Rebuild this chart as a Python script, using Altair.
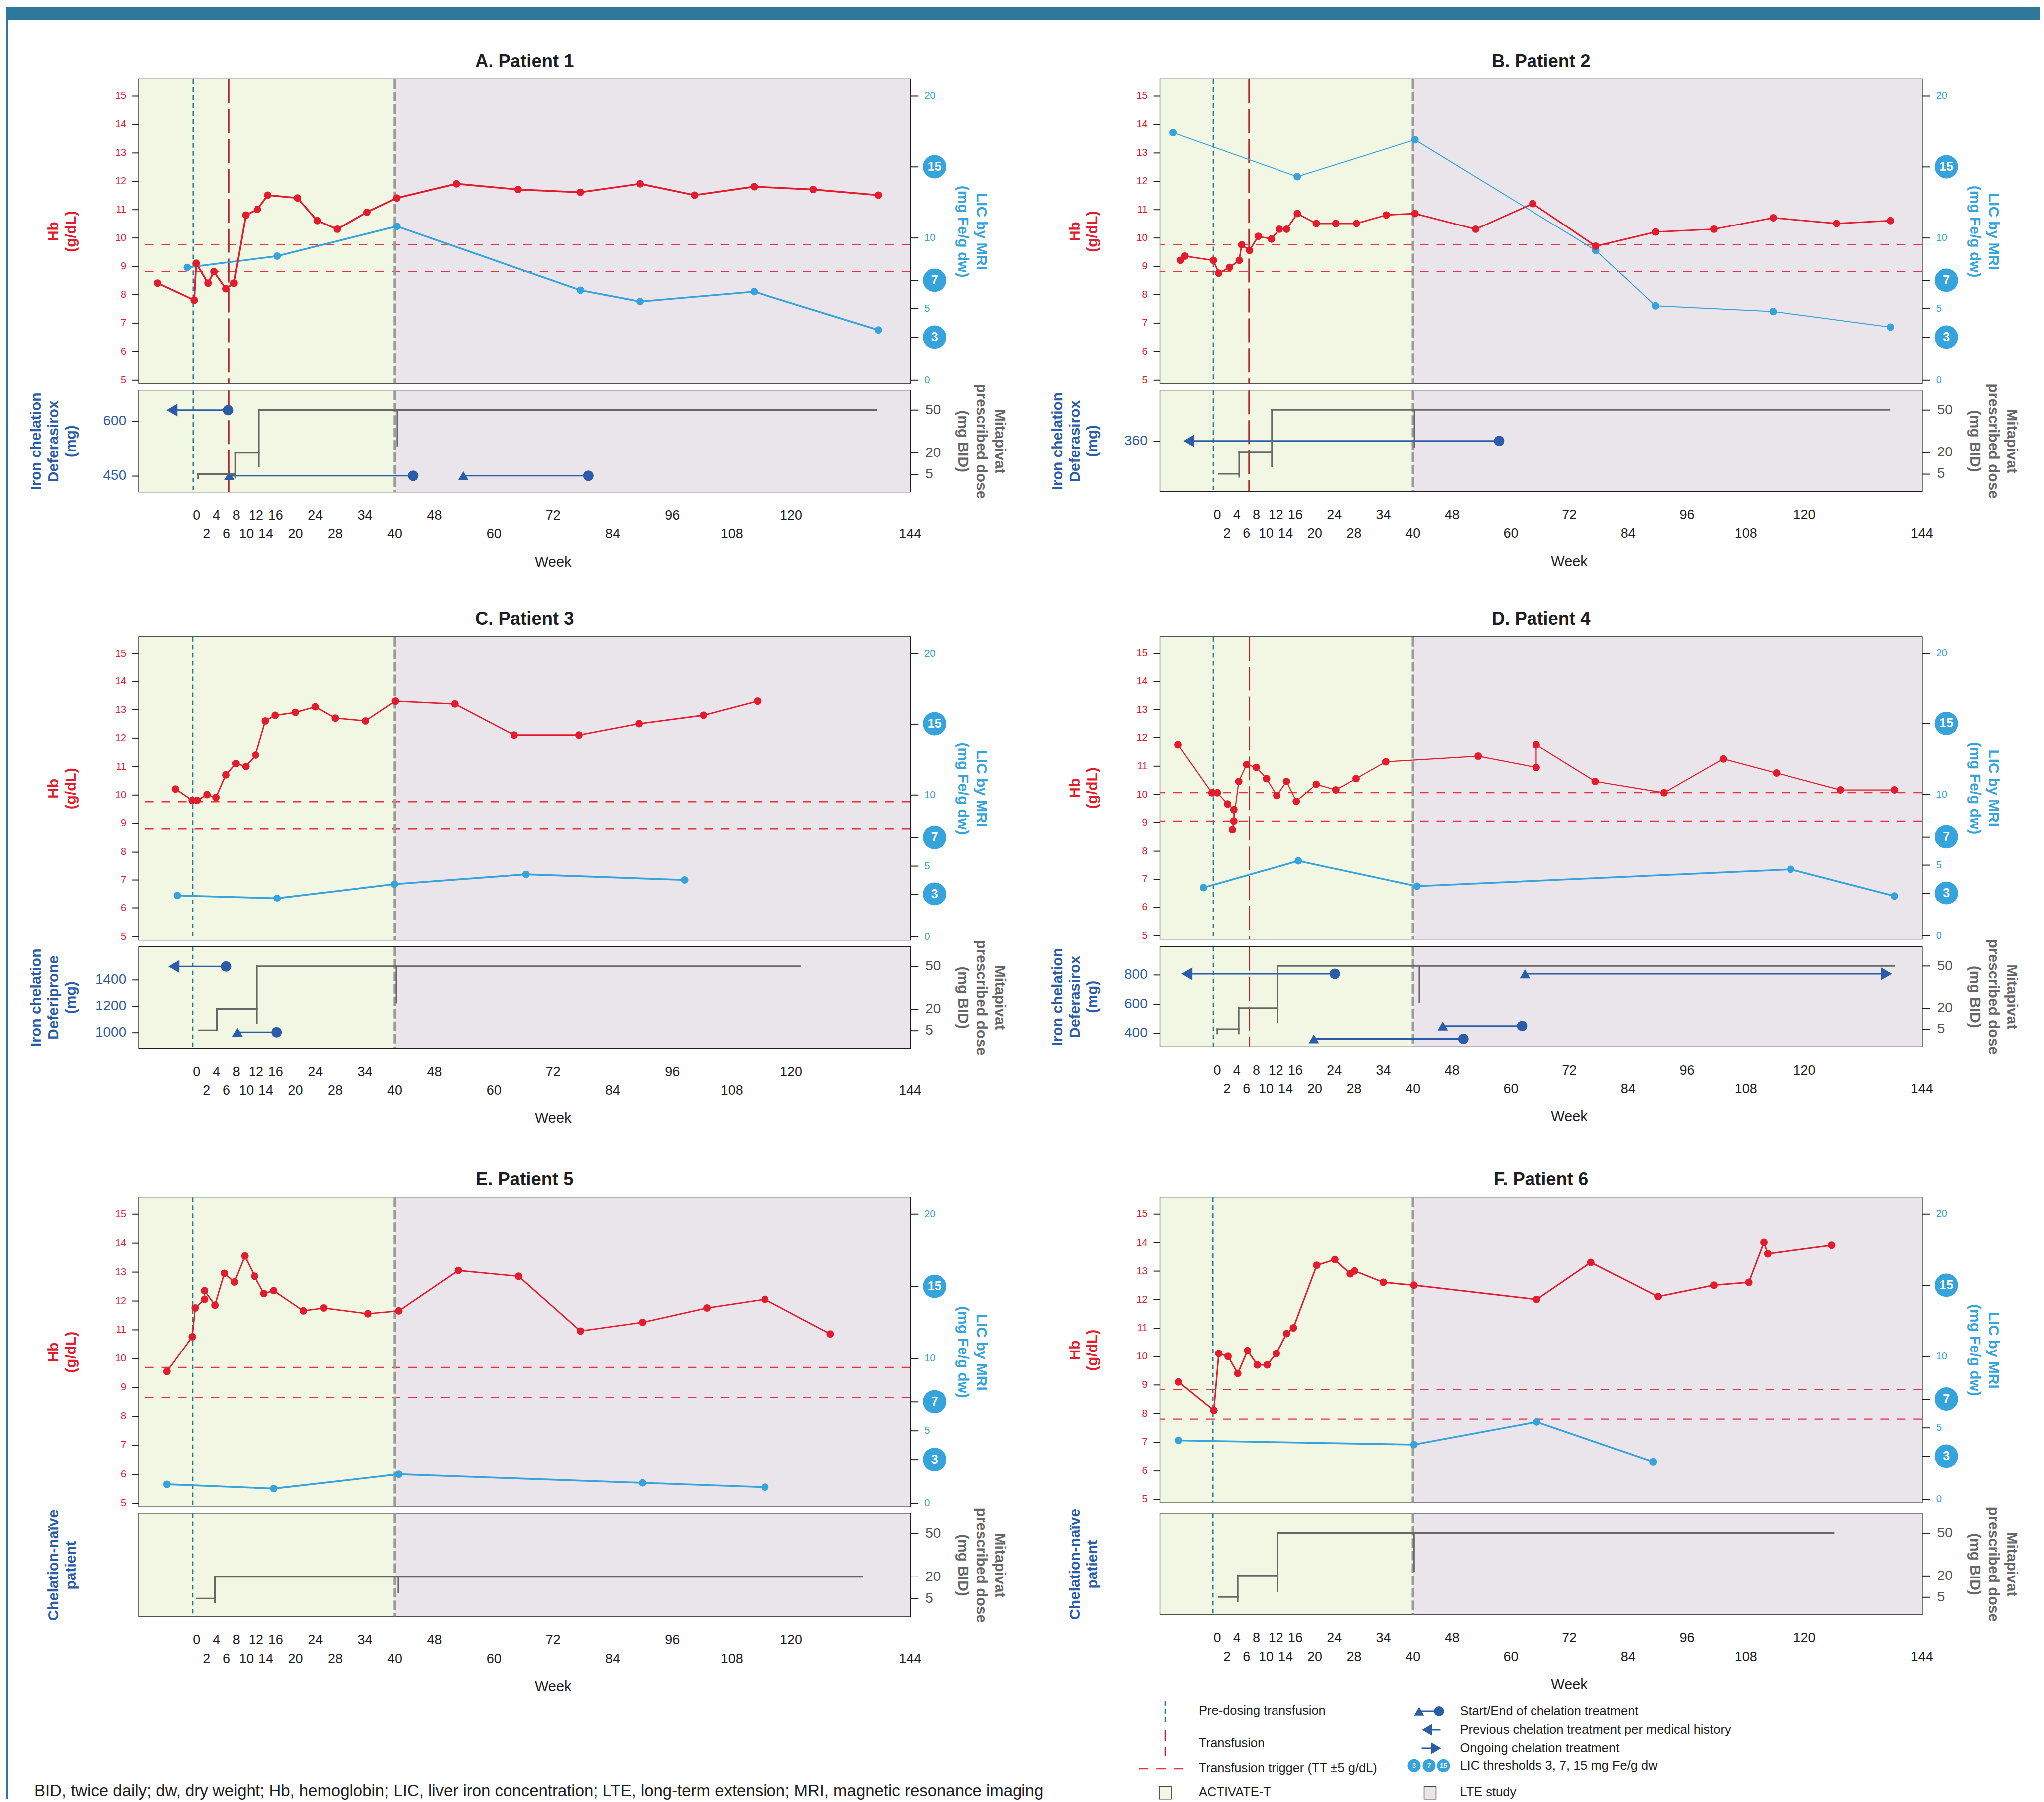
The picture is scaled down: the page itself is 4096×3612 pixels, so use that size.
import altair as alt
import pandas as pd

FONT = "Liberation Sans, Arial, Helvetica, sans-serif"
RED = "#e31b2c"
RED_LINE = "#e8323f"
TRANS = "#b3262f"
TEAL = "#1f7a9c"
LICB = "#35a3dc"
CHB = "#2a5ca8"
MITA = "#666666"
GREEN = "#f2f7e3"
PURPLE = "#e9e5eb"
BAND = "#2e789b"
INK = "#1e1e1e"

XMIN, XMAX = -11.6, 144.0
HB_DOM = [4.88, 15.57]
LIC_DOM = [-0.24, 21.14]
MITA_DOM = [-7.3, 63.6]

WEEK_TICKS = [0, 2, 4, 6, 8, 10, 12, 14, 16, 20, 24, 28, 34, 40, 48, 60, 72, 84, 96, 108, 120, 144]
WEEK_ROW2 = [2, 6, 10, 14, 20, 28, 40, 60, 84, 108, 144]
HB_TICKS = list(range(5, 16))
LIC_TICKS = [0, 3, 5, 7, 10, 15, 20]
LIC_BADGES = [3, 7, 15]
MITA_TICKS = [5, 20, 50]
ACTIVATE_END = 40
PHASES = ["ACTIVATE-T", "LTE"]

# ---------------- Patient 1 ----------------
p1_hb_wk = [-7.9, -0.5, -0.1, 2.3, 3.5, 5.9, 7.5, 9.9, 12.3, 14.4, 20.4, 24.4, 28.4, 34.4, 40.4, 52.4, 64.9, 77.5, 89.5, 100.5, 112.5, 124.5, 137.6]
p1_hb = [8.4, 7.8, 9.1, 8.4, 8.8, 8.2, 8.4, 10.8, 11.0, 11.5, 11.4, 10.6, 10.3, 10.9, 11.4, 11.9, 11.7, 11.6, 11.9, 11.5, 11.8, 11.7, 11.5]
p1_lic_wk = [-1.9, 16.3, 40.4, 77.5, 89.5, 112.5, 137.6]
p1_lic = [7.9, 8.7, 10.8, 6.3, 5.5, 6.2, 3.5]
p1_tt = [9.75, 8.8]
p1_pre = [-0.7]
p1_tf = [6.5]
p1_chel = [(-5.0, 6.35, 630, "larr", "circ"), (6.6, 43.7, 450, "tri", "circ"), (53.8, 79.1, 450, "tri", "circ")]
p1_chel_ticks = [450, 600]
p1_chel_dom = [406, 684]
p1_mita_h = [(0.3, 7.8, 5), (7.8, 12.6, 20), (12.6, 137.2, 50)]
p1_mita_v = [(0.3, 2, 5), (7.8, 2.5, 20), (12.6, 10.4, 50), (40.5, 25, 50)]

# ---------------- Patient 2 ----------------
p2_hb_wk = [-7.5, -6.6, -0.8, 0.3, 2.5, 4.5, 5.0, 6.6, 8.4, 11.1, 12.7, 14.2, 16.4, 20.3, 24.3, 28.5, 34.6, 40.4, 52.8, 64.5, 77.4, 89.6, 101.5, 113.6, 126.6, 137.6]
p2_hb = [9.2, 9.35, 9.2, 8.75, 8.95, 9.2, 9.75, 9.55, 10.05, 9.95, 10.3, 10.3, 10.85, 10.5, 10.5, 10.5, 10.8, 10.85, 10.3, 11.2, 9.7, 10.2, 10.3, 10.7, 10.5, 10.6]
p2_lic_wk = [-9.0, 16.4, 40.4, 77.4, 89.6, 113.6, 137.6]
p2_lic = [17.4, 14.3, 16.9, 9.1, 5.2, 4.8, 3.7]
p2_tt = [9.75, 8.8]
p2_pre = [-0.8]
p2_tf = [6.5]
p2_chel = [(-5.8, 57.6, 360, "larr", "circ")]
p2_chel_ticks = [360]
p2_chel_dom = [260, 460]
p2_mita_h = [(0.3, 4.5, 5), (4.5, 11.2, 20), (11.2, 137.4, 50)]
p2_mita_v = [(4.5, 2.9, 20), (11.2, 10.2, 50), (40.3, 23.8, 50)]

# ---------------- Patient 3 ----------------
p3_hb_wk = [-4.3, -0.9, 0.1, 2.1, 3.9, 5.9, 7.9, 9.9, 11.9, 13.9, 15.9, 20.0, 24.0, 28.0, 34.1, 40.1, 52.1, 64.1, 77.2, 89.3, 102.3, 113.2]
p3_hb = [10.2, 9.8, 9.8, 10.0, 9.9, 10.7, 11.1, 11.0, 11.4, 12.6, 12.8, 12.9, 13.1, 12.7, 12.6, 13.3, 13.2, 12.1, 12.1, 12.5, 12.8, 13.3]
p3_lic_wk = [-3.9, 16.3, 39.9, 66.5, 98.5]
p3_lic = [2.9, 2.7, 3.7, 4.4, 4.0]
p3_tt = [9.75, 8.8]
p3_pre = [-0.8]
p3_tf = []
p3_chel = [(-4.6, 5.95, 1500, "larr", "circ"), (8.2, 16.2, 1000, "tri", "circ")]
p3_chel_ticks = [1000, 1200, 1400]
p3_chel_dom = [881, 1649]
p3_mita_h = [(0.5, 4.1, 5), (4.1, 12.2, 20), (12.2, 121.8, 50)]
p3_mita_v = [(4.1, 5, 20), (12.2, 10.1, 50), (40.3, 24.5, 50)]

# ---------------- Patient 4 ----------------
p4_hb_wk = [-8.0, -1.1, 0.0, 2.1, 3.4, 3.4, 3.1, 4.4, 6.0, 8.0, 10.1, 12.2, 14.2, 16.2, 20.3, 24.3, 28.4, 34.5, 53.3, 65.2, 65.2, 77.3, 91.3, 103.4, 114.3, 127.4, 138.4]
p4_hb = [11.75, 10.05, 10.05, 9.65, 9.45, 9.05, 8.75, 10.45, 11.05, 10.95, 10.55, 9.95, 10.45, 9.75, 10.35, 10.15, 10.55, 11.15, 11.35, 10.95, 11.75, 10.45, 10.05, 11.25, 10.75, 10.15, 10.15]
p4_lic_wk = [-2.8, 16.6, 40.8, 117.2, 138.4]
p4_lic = [3.4, 5.3, 3.5, 4.7, 2.8]
p4_tt = [10.05, 9.05]
p4_pre = [-0.8]
p4_tf = [6.6]
p4_chel = [(-6.2, 24.1, 806, "larr", "circ"), (62.9, 136.8, 806, "tri", "rarr"), (46.1, 62.3, 449, "tri", "circ"), (19.8, 50.3, 361, "tri", "circ")]
p4_chel_ticks = [400, 600, 800]
p4_chel_dom = [309, 991]
p4_mita_h = [(0.0, 4.4, 5), (4.4, 12.3, 20), (12.3, 138.4, 50)]
p4_mita_v = [(0.0, 1.9, 5), (4.4, 1.9, 20), (12.3, 9.8, 50), (41.3, 24.4, 50)]

# ---------------- Patient 5 ----------------
p5_hb_wk = [-6.0, -0.9, -0.3, 1.6, 1.6, 3.7, 5.6, 7.6, 9.7, 11.7, 13.6, 15.6, 21.6, 25.7, 34.6, 40.8, 52.8, 65.0, 77.5, 90.0, 103.0, 114.7, 127.9]
p5_hb = [9.55, 10.75, 11.75, 12.05, 12.35, 11.85, 12.95, 12.65, 13.55, 12.85, 12.25, 12.35, 11.65, 11.75, 11.55, 11.65, 13.05, 12.85, 10.95, 11.25, 11.75, 12.05, 10.85]
p5_lic_wk = [-6.0, 15.6, 40.8, 90.0, 114.7]
p5_lic = [1.3, 1.0, 2.0, 1.4, 1.1]
p5_tt = [9.69, 8.65]
p5_pre = [-0.8]
p5_tf = []
p5_chel = []
p5_chel_ticks = []
p5_chel_dom = [0, 1]
p5_mita_h = [(0.0, 3.7, 5), (3.7, 134.3, 20)]
p5_mita_v = [(3.7, 2.4, 20), (40.7, 9.3, 20)]

# ---------------- Patient 6 ----------------
p6_hb_wk = [-7.9, -0.7, 0.3, 2.2, 4.2, 6.2, 8.2, 10.2, 12.1, 14.2, 15.6, 20.4, 24.1, 27.2, 28.1, 34.0, 40.2, 65.3, 76.4, 90.1, 101.5, 108.6, 111.7, 112.5, 125.6]
p6_hb = [9.1, 8.1, 10.1, 10.0, 9.4, 10.2, 9.7, 9.7, 10.1, 10.8, 11.0, 13.2, 13.4, 12.9, 13.0, 12.6, 12.5, 12.0, 13.3, 12.1, 12.5, 12.6, 14.0, 13.6, 13.9]
p6_lic_wk = [-7.9, 40.2, 65.3, 89.1]
p6_lic = [4.1, 3.8, 5.4, 2.6]
p6_tt = [8.83, 7.8]
p6_pre = [-0.9]
p6_tf = []
p6_chel = []
p6_chel_ticks = []
p6_chel_dom = [0, 1]
p6_mita_h = [(0.3, 4.2, 5), (4.2, 12.3, 20), (12.3, 126.0, 50)]
p6_mita_v = [(4.2, 2.1, 20), (12.3, 9.1, 50), (40.2, 23.3, 50)]

TITLES = ["A. Patient 1", "B. Patient 2", "C. Patient 3", "D. Patient 4", "E. Patient 5", "F. Patient 6"]
CHEL_TITLES = [
    ["Iron chelation", "Deferasirox", "(mg)"],
    ["Iron chelation", "Deferasirox", "(mg)"],
    ["Iron chelation", "Deferiprone", "(mg)"],
    ["Iron chelation", "Deferasirox", "(mg)"],
    ["Chelation-naïve", "patient"],
    ["Chelation-naïve", "patient"],
]

PATIENTS = [
    dict(hb_wk=p1_hb_wk, hb=p1_hb, lic_wk=p1_lic_wk, lic=p1_lic, tt=p1_tt, pre=p1_pre, tf=p1_tf, chel=p1_chel, chel_ticks=p1_chel_ticks, chel_dom=p1_chel_dom, mh=p1_mita_h, mv=p1_mita_v),
    dict(hb_wk=p2_hb_wk, hb=p2_hb, lic_wk=p2_lic_wk, lic=p2_lic, tt=p2_tt, pre=p2_pre, tf=p2_tf, chel=p2_chel, chel_ticks=p2_chel_ticks, chel_dom=p2_chel_dom, mh=p2_mita_h, mv=p2_mita_v),
    dict(hb_wk=p3_hb_wk, hb=p3_hb, lic_wk=p3_lic_wk, lic=p3_lic, tt=p3_tt, pre=p3_pre, tf=p3_tf, chel=p3_chel, chel_ticks=p3_chel_ticks, chel_dom=p3_chel_dom, mh=p3_mita_h, mv=p3_mita_v),
    dict(hb_wk=p4_hb_wk, hb=p4_hb, lic_wk=p4_lic_wk, lic=p4_lic, tt=p4_tt, pre=p4_pre, tf=p4_tf, chel=p4_chel, chel_ticks=p4_chel_ticks, chel_dom=p4_chel_dom, mh=p4_mita_h, mv=p4_mita_v),
    dict(hb_wk=p5_hb_wk, hb=p5_hb, lic_wk=p5_lic_wk, lic=p5_lic, tt=p5_tt, pre=p5_pre, tf=p5_tf, chel=p5_chel, chel_ticks=p5_chel_ticks, chel_dom=p5_chel_dom, mh=p5_mita_h, mv=p5_mita_v),
    dict(hb_wk=p6_hb_wk, hb=p6_hb, lic_wk=p6_lic_wk, lic=p6_lic, tt=p6_tt, pre=p6_pre, tf=p6_tf, chel=p6_chel, chel_ticks=p6_chel_ticks, chel_dom=p6_chel_dom, mh=p6_mita_h, mv=p6_mita_v),
]

WL, WR = 1547, 1528          # plot widths of left / right column panels
COL0, COL2 = 267, 502        # left margin and gap between the two panel columns
LAYOUT = [
    dict(W=WL, HU=610, HL=204, hbw=3.6, licw=3.6),
    dict(W=WR, HU=610, HL=203, hbw=3.0, licw=2.0),
    dict(W=WL, HU=608, HL=203, hbw=2.8, licw=3.6),
    dict(W=WR, HU=606, HL=200, hbw=2.2, licw=3.6),
    dict(W=WL, HU=620, HL=207, hbw=2.8, licw=3.6),
    dict(W=WR, HU=612, HL=203, hbw=3.0, licw=3.6),
]

phase_df = pd.DataFrame({"phase": PHASES, "x0": [XMIN, ACTIVATE_END], "x1": [ACTIVATE_END, XMAX]})
week_lab_df = pd.DataFrame({"w": WEEK_TICKS, "lab": [str(v) for v in WEEK_TICKS],
                            "row": [1 if v in WEEK_ROW2 else 0 for v in WEEK_TICKS]})
dummy = pd.DataFrame({"a": [0]})


def xs():
    return alt.Scale(domain=[XMIN, XMAX], nice=False, zero=False)


def X(f):
    return alt.X(f"{f}:Q", scale=xs(), axis=None)


def bg_layer(axis=None):
    return alt.Chart(phase_df).mark_rect().encode(
        x=alt.X("x0:Q", scale=xs(), axis=axis), x2="x1",
        color=alt.Color("phase:N", scale=alt.Scale(domain=PHASES, range=[GREEN, PURPLE]), legend=None))


def vlines(d):
    layers = []
    if d["pre"]:
        layers.append(alt.Chart(pd.DataFrame({"w": d["pre"]})).mark_rule(
            color=TEAL, strokeWidth=2.8, strokeDash=[9, 7]).encode(x=X("w")))
    if d["tf"]:
        layers.append(alt.Chart(pd.DataFrame({"w": d["tf"]})).mark_rule(
            color=TRANS, strokeWidth=2.8, strokeDash=[48, 12]).encode(x=X("w")))
    layers.append(alt.Chart(pd.DataFrame({"w": [ACTIVATE_END]})).mark_rule(
        color="#9a9a9a", strokeWidth=5.5, strokeDash=[19, 6]).encode(x=X("w")))
    return layers


def upper(d, lay, title):
    W, H = lay["W"], lay["HU"]

    def hb_s():
        return alt.Scale(domain=HB_DOM, nice=False, zero=False)

    def lic_s():
        return alt.Scale(domain=LIC_DOM, nice=False, zero=False)

    hb_axis = alt.Axis(values=HB_TICKS, orient="left", tickSize=14, tickWidth=2, tickColor=INK,
                       labelColor=RED, labelFontSize=20, labelPadding=12, domain=False, grid=False,
                       title=["Hb", "(g/dL)"], titleColor=RED, titleFontSize=30, titleFontWeight="bold",
                       titleLineHeight=35, minExtent=50, maxExtent=50, titlePadding=71)
    lic_axis = alt.Axis(values=LIC_TICKS, orient="right", tickSize=16, tickWidth=2, tickColor=INK,
                        labelExpr="indexof([3, 7, 15], datum.value) >= 0 ? '' : datum.label",
                        labelColor=LICB, labelFontSize=20, labelPadding=12, domain=False, grid=False,
                        title=["LIC by MRI", "(mg Fe/g dw)"], titleColor=LICB, titleFontSize=30,
                        titleFontWeight="bold", titleLineHeight=37, minExtent=50, maxExtent=50, titlePadding=40)
    thr = alt.Chart(pd.DataFrame({"hb": d["tt"]})).mark_rule(
        color=RED_LINE, strokeWidth=2.3, strokeDash=[17, 16]).encode(
        y=alt.Y("hb:Q", scale=hb_s(), axis=hb_axis))
    hb_df = pd.DataFrame({"wk": d["hb_wk"], "hb": d["hb"], "i": list(range(len(d["hb"])))})
    hbl = alt.Chart(hb_df).mark_line(color=RED, strokeWidth=lay["hbw"]).encode(
        x=X("wk"), y=alt.Y("hb:Q", scale=hb_s(), axis=None), order="i:Q")
    hbp = alt.Chart(hb_df).mark_circle(color=RED, size=225, opacity=1).encode(
        x=X("wk"), y=alt.Y("hb:Q", scale=hb_s(), axis=None))
    lic_df = pd.DataFrame({"wk": d["lic_wk"], "lic": d["lic"], "i": list(range(len(d["lic"])))})
    licl = alt.Chart(lic_df).mark_line(color=LICB, strokeWidth=lay["licw"]).encode(
        x=X("wk"), y=alt.Y("lic:Q", scale=lic_s(), axis=lic_axis), order="i:Q")
    licp = alt.Chart(lic_df).mark_circle(color=LICB, size=225, opacity=1).encode(
        x=X("wk"), y=alt.Y("lic:Q", scale=lic_s(), axis=None))
    bd = pd.DataFrame({"lic": LIC_BADGES, "lab": [str(v) for v in LIC_BADGES]})
    bc = alt.Chart(bd).mark_circle(color=LICB, size=2200, opacity=1).encode(
        x=alt.value(W + 49), y=alt.Y("lic:Q", scale=lic_s(), axis=None))
    bt = alt.Chart(bd).mark_text(color="white", fontSize=25, fontWeight="bold", font=FONT,
                                 align="center", baseline="middle").encode(
        x=alt.value(W + 49), y=alt.Y("lic:Q", scale=lic_s(), axis=None), text="lab:N")
    layers = [bg_layer(), thr] + vlines(d) + [licl, licp, hbl, hbp, bc, bt]
    return alt.layer(*layers).resolve_scale(y="independent").properties(
        width=W, height=H,
        title=alt.TitleParams(text=title, fontSize=36.5, fontWeight="bold", font=FONT, color=INK,
                              offset=14, anchor="middle", frame="group"),
        view=alt.ViewBackground(stroke=INK, strokeWidth=2.6))


def lower(d, lay, chel_title):
    W, H = lay["W"], lay["HL"]

    def chel_s():
        return alt.Scale(domain=d["chel_dom"], nice=False, zero=False)

    def mita_s():
        return alt.Scale(domain=MITA_DOM, nice=False, zero=False)

    title_x = (72 - XMIN) / (XMAX - XMIN) * W
    week_axis = alt.Axis(values=WEEK_TICKS, labels=False, tickSize=15, tickWidth=2, tickColor=INK,
                         domain=False, grid=False, title=None)
    has_ticks = len(d["chel_ticks"]) > 0
    if has_ticks:
        chel_axis = alt.Axis(values=d["chel_ticks"], format="d", orient="left", tickSize=14, tickWidth=2,
                             tickColor=INK, labelColor=CHB, labelFontSize=28, labelPadding=12, domain=False,
                             grid=False, title=chel_title, titleColor=CHB, titleFontSize=30,
                             titleFontWeight="bold", titleLineHeight=35, minExtent=50, maxExtent=50,
                             titlePadding=71)
    else:
        chel_axis = alt.Axis(values=[0.5], orient="left", ticks=False, labels=False, domain=False, grid=False,
                             title=chel_title, titleColor=CHB, titleFontSize=30, titleFontWeight="bold",
                             titleLineHeight=35, minExtent=50, maxExtent=50, titlePadding=71)
    mita_axis = alt.Axis(values=MITA_TICKS, orient="right", tickSize=16, tickWidth=2, tickColor=INK,
                         labelColor="#555555", labelFontSize=28, labelPadding=14, domain=False, grid=False,
                         title=["Mitapivat", "prescribed dose", "(mg BID)"], titleColor=MITA,
                         titleFontSize=30, titleFontWeight="bold", titleLineHeight=37,
                         minExtent=50, maxExtent=50, titlePadding=40)
    segs = d["chel"]
    layers = [bg_layer(week_axis)] + vlines(d)
    if segs:
        seg_df = pd.DataFrame({"s": [s[0] for s in segs], "e": [s[1] for s in segs], "mg": [s[2] for s in segs]})
        layers.append(alt.Chart(seg_df).mark_rule(color=CHB, strokeWidth=3).encode(
            x=X("s"), x2="e", y=alt.Y("mg:Q", scale=chel_s(), axis=chel_axis)))
    else:
        host = pd.DataFrame({"s": [0.0], "mg": [0.5]})
        layers.append(alt.Chart(host).mark_point(opacity=0).encode(
            x=X("s"), y=alt.Y("mg:Q", scale=chel_s(), axis=chel_axis)))
    pts = []
    for s in segs:
        pts.append((s[0], s[2], s[3]))
        pts.append((s[1], s[2], s[4]))
    for kind, shape, size in [("tri", "triangle-up", 441), ("circ", "circle", 441),
                              ("larr", "triangle-left", 650), ("rarr", "triangle-right", 650)]:
        sel = [p for p in pts if p[2] == kind]
        if sel:
            df = pd.DataFrame({"w": [p[0] for p in sel], "mg": [p[1] for p in sel]})
            layers.append(alt.Chart(df).mark_point(shape=shape, size=size, filled=True, opacity=1,
                                                   color=CHB).encode(
                x=X("w"), y=alt.Y("mg:Q", scale=chel_s(), axis=None)))
    mh_df = pd.DataFrame({"s": [m[0] for m in d["mh"]], "e": [m[1] for m in d["mh"]], "d": [m[2] for m in d["mh"]]})
    mv_df = pd.DataFrame({"w": [m[0] for m in d["mv"]], "d0": [m[1] for m in d["mv"]], "d1": [m[2] for m in d["mv"]]})
    layers.append(alt.Chart(mh_df).mark_rule(color=MITA, strokeWidth=3.2, strokeCap="square").encode(
        x=X("s"), x2="e", y=alt.Y("d:Q", scale=mita_s(), axis=mita_axis)))
    layers.append(alt.Chart(mv_df).mark_rule(color=MITA, strokeWidth=3.2, strokeCap="square").encode(
        x=X("w"), y=alt.Y("d0:Q", scale=mita_s(), axis=None), y2="d1"))
    for r, yoff in [(0, 56), (1, 93.5)]:
        sub = week_lab_df[week_lab_df["row"] == r]
        layers.append(alt.Chart(sub).mark_text(fontSize=27, color=INK, font=FONT, align="center",
                                               baseline="alphabetic").encode(
            x=X("w"), y=alt.value(H + yoff), text="lab:N"))
    layers.append(alt.Chart(dummy).mark_text(fontSize=29, color=INK, font=FONT, align="center",
                                             baseline="alphabetic").encode(
        x=alt.value(title_x), y=alt.value(H + 150), text=alt.value("Week")))
    return alt.layer(*layers).resolve_scale(y="independent").properties(
        width=W, height=H, view=alt.ViewBackground(stroke=INK, strokeWidth=2.6))


def sp(w, h=1):
    return alt.Chart(dummy).mark_point(opacity=0).encode(x=alt.value(0), y=alt.value(0)).properties(width=w, height=h)


TOTAL_W, TOTAL_H = 4080, 3596

# top band and left stripe (page decoration), drawn from a 1px cell
band = alt.layer(
    alt.Chart(dummy).mark_rect(color=BAND).encode(
        x=alt.value(0), x2=alt.value(TOTAL_W), y=alt.value(0), y2=alt.value(26)),
    alt.Chart(dummy).mark_rect(color=BAND).encode(
        x=alt.value(0), x2=alt.value(5), y=alt.value(0), y2=alt.value(TOTAL_H)),
).properties(width=1, height=26)

# ---------------- legend + footnote ----------------
TXT = dict(align="left", baseline="middle", font=FONT, color=INK)


def txt(x, y, s, size=25.5):
    return alt.Chart(dummy).mark_text(fontSize=size, **TXT).encode(x=alt.value(x), y=alt.value(y), text=alt.value(s))


LX = 5
leg = [
    alt.Chart(dummy).mark_rule(color=TEAL, strokeWidth=2.8, strokeDash=[9, 7]).encode(
        x=alt.value(LX + 2321), y=alt.value(18), y2=alt.value(62)),
    alt.Chart(dummy).mark_rule(color=TRANS, strokeWidth=2.8, strokeDash=[22, 11]).encode(
        x=alt.value(LX + 2321), y=alt.value(76), y2=alt.value(127)),
    alt.Chart(dummy).mark_rule(color=RED_LINE, strokeWidth=3, strokeDash=[19, 16]).encode(
        x=alt.value(LX + 2268), x2=alt.value(LX + 2359), y=alt.value(153)),
    alt.Chart(dummy).mark_rect(color=GREEN, stroke="#444444", strokeWidth=1.5).encode(
        x=alt.value(LX + 2309), x2=alt.value(LX + 2333), y=alt.value(189), y2=alt.value(214)),
    alt.Chart(dummy).mark_rect(color=PURPLE, stroke="#444444", strokeWidth=1.5).encode(
        x=alt.value(LX + 2840), x2=alt.value(LX + 2864), y=alt.value(189), y2=alt.value(214)),
    alt.Chart(dummy).mark_rule(color=CHB, strokeWidth=3).encode(
        x=alt.value(LX + 2830), x2=alt.value(LX + 2870), y=alt.value(38)),
    alt.Chart(dummy).mark_point(shape="triangle-up", size=400, filled=True, opacity=1, color=CHB).encode(
        x=alt.value(LX + 2830), y=alt.value(38)),
    alt.Chart(dummy).mark_point(shape="circle", size=400, filled=True, opacity=1, color=CHB).encode(
        x=alt.value(LX + 2870), y=alt.value(38)),
    alt.Chart(dummy).mark_rule(color=CHB, strokeWidth=3).encode(
        x=alt.value(LX + 2844), x2=alt.value(LX + 2873), y=alt.value(75)),
    alt.Chart(dummy).mark_point(shape="triangle-left", size=576, filled=True, opacity=1, color=CHB).encode(
        x=alt.value(LX + 2846), y=alt.value(75)),
    alt.Chart(dummy).mark_rule(color=CHB, strokeWidth=3).encode(
        x=alt.value(LX + 2835), x2=alt.value(LX + 2865), y=alt.value(112)),
    alt.Chart(dummy).mark_point(shape="triangle-right", size=576, filled=True, opacity=1, color=CHB).encode(
        x=alt.value(LX + 2864), y=alt.value(112)),
]
for bx, lab in zip([2820, 2850, 2879], LIC_BADGES):
    leg.append(alt.Chart(dummy).mark_circle(color=LICB, size=680, opacity=1).encode(
        x=alt.value(LX + bx), y=alt.value(147)))
    leg.append(alt.Chart(dummy).mark_text(color="white", fontSize=13, fontWeight="bold", font=FONT,
                                          align="center", baseline="middle").encode(
        x=alt.value(LX + bx), y=alt.value(147.5), text=alt.value(str(lab))))
leg += [
    txt(LX + 2388, 37, "Pre-dosing transfusion"),
    txt(LX + 2388, 102, "Transfusion"),
    txt(LX + 2388, 152, "Transfusion trigger (TT ±5 g/dL)"),
    txt(LX + 2388, 200, "ACTIVATE-T"),
    txt(LX + 2912, 38, "Start/End of chelation treatment"),
    txt(LX + 2912, 75, "Previous chelation treatment per medical history"),
    txt(LX + 2912, 112, "Ongoing chelation treatment"),
    txt(LX + 2912, 147, "LIC thresholds 3, 7, 15 mg Fe/g dw"),
    txt(LX + 2912, 200, "LTE study"),
    txt(LX + 52, 198, "BID, twice daily; dw, dry weight; Hb, hemoglobin; LIC, liver iron concentration; "
                      "LTE, long-term extension; MRI, magnetic resonance imaging", size=33),
]
legend = alt.layer(*leg).properties(width=1, height=216)


def gap_row(h):
    return [sp(1, h), sp(1), sp(1), sp(1)]


U = [upper(PATIENTS[i], LAYOUT[i], TITLES[i]) for i in range(6)]
L = [lower(PATIENTS[i], LAYOUT[i], CHEL_TITLES[i]) for i in range(6)]

cells = []
cells += [band, sp(1), sp(1), sp(1)]
cells += gap_row(118.6)
cells += [sp(COL0), U[0], sp(COL2), U[1]]
cells += gap_row(14)
cells += [sp(COL0), L[0], sp(COL2), L[1]]
cells += gap_row(290.4)
cells += [sp(COL0), U[2], sp(COL2), U[3]]
cells += gap_row(14)
cells += [sp(COL0), L[2], sp(COL2), L[3]]
cells += gap_row(300)
cells += [sp(COL0), U[4], sp(COL2), U[5]]
cells += gap_row(14)
cells += [sp(COL0), L[4], sp(COL2), L[5]]
cells += gap_row(152)
cells += [legend, sp(1), sp(1), sp(1)]

chart = alt.concat(*cells, columns=4, spacing=0, bounds="flush", align="each").properties(padding=0).configure(
    font=FONT).configure_view(stroke="transparent").configure_axis(labelFont=FONT, titleFont=FONT)

chart.save("out.html", embed_options={"renderer": "svg", "actions": False})
